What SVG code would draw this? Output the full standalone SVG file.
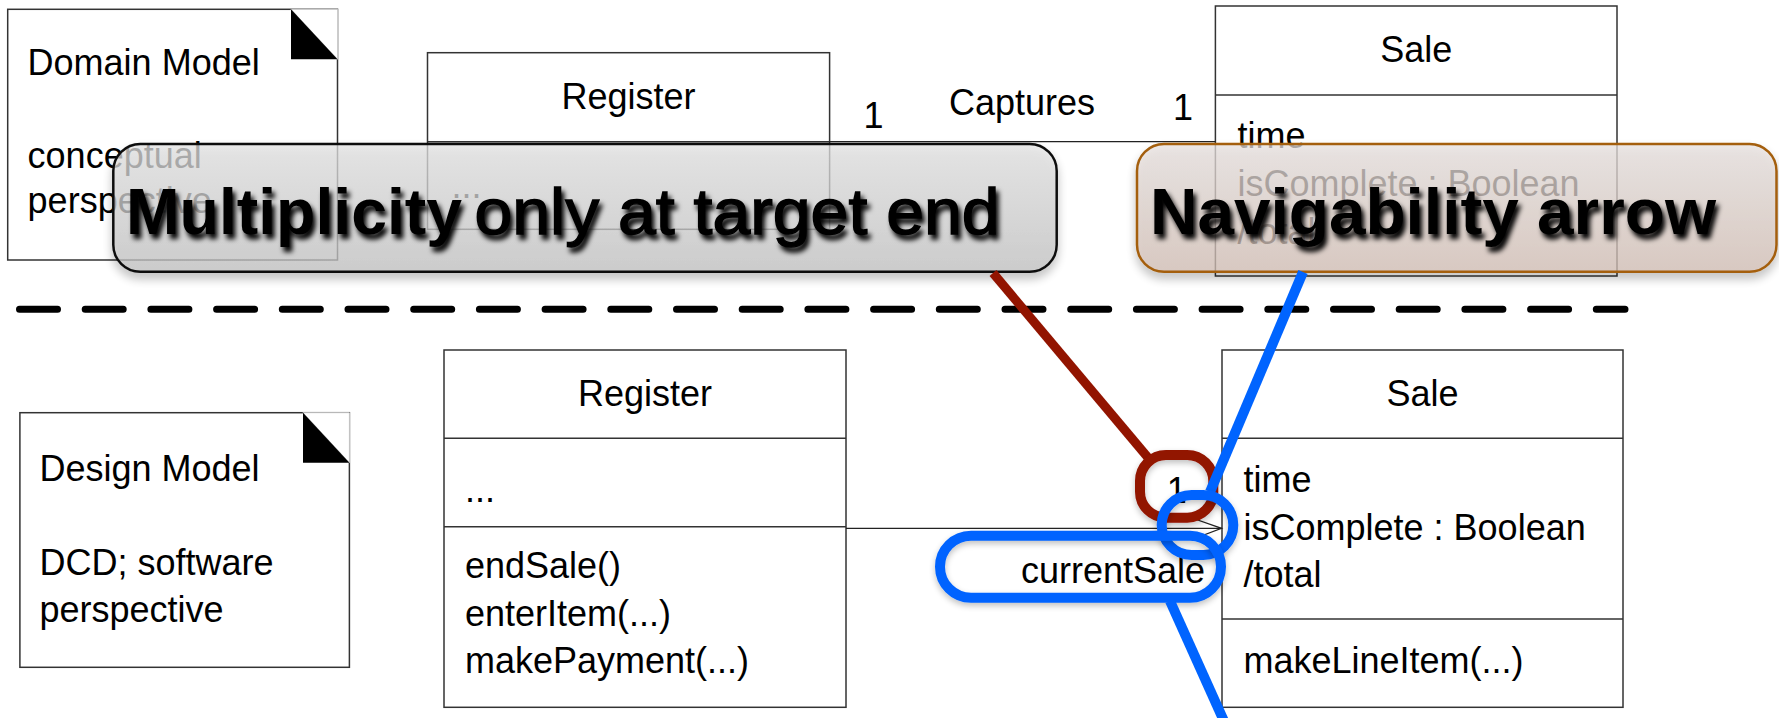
<svg xmlns="http://www.w3.org/2000/svg" width="1779" height="718" viewBox="0 0 1779 718">
  <style>
    .box { fill: #ffffff; stroke: #333333; stroke-width: 1.5; }
    .sep { stroke: #333333; stroke-width: 1.5; fill: none; }
    .t { font-family: "Liberation Sans", Arial, sans-serif; font-size: 36px; fill: #000000; }
    .mid { text-anchor: middle; }
    .end { text-anchor: end; }
    .fold { fill: #000000; }
    .corner { fill: #ffffff; stroke: #cccccc; stroke-width: 1; }
    .assoc { stroke: #222222; stroke-width: 1.3; fill: none; }
    .divider { stroke: #000000; stroke-width: 7; stroke-linecap: round; stroke-dasharray: 38 27.7; fill: none; }
    .callout-text { font-family: "Liberation Sans", Arial, sans-serif; font-size: 64px; fill: #000000; }
    .medium { stroke: #000000; stroke-width: 1.4; }
    .red { stroke: #921400; fill: none; }
    .blue { stroke: #0064ff; fill: none; }
  </style>
  <defs>
    <linearGradient id="grayFill" x1="0" y1="0" x2="0" y2="1">
      <stop offset="0" stop-color="#e4e4e4"/>
      <stop offset="1" stop-color="#c4c4c4"/>
    </linearGradient>
    <linearGradient id="tanFill" x1="0" y1="0" x2="0" y2="1">
      <stop offset="0" stop-color="#e8e2e0"/>
      <stop offset="1" stop-color="#d4c0b6"/>
    </linearGradient>
    <filter id="textShadow" x="-5%" y="-30%" width="115%" height="170%">
      <feGaussianBlur in="SourceAlpha" stdDeviation="2.5" result="b"/>
      <feOffset in="b" dx="3" dy="5" result="o"/>
      <feComponentTransfer in="o" result="s"><feFuncA type="linear" slope="1"/></feComponentTransfer>
      <feMerge><feMergeNode in="s"/><feMergeNode in="SourceGraphic"/></feMerge>
    </filter>
    <filter id="boxShadow" x="-5%" y="-20%" width="110%" height="150%">
      <feGaussianBlur in="SourceAlpha" stdDeviation="5" result="b"/>
      <feOffset in="b" dx="0" dy="6" result="o"/>
      <feComponentTransfer in="o" result="s"><feFuncA type="linear" slope="0.3"/></feComponentTransfer>
      <feMerge><feMergeNode in="s"/><feMergeNode in="SourceGraphic"/></feMerge>
    </filter>
    <filter id="ringShadow" x="-20%" y="-20%" width="140%" height="150%">
      <feGaussianBlur in="SourceAlpha" stdDeviation="3" result="b"/>
      <feOffset in="b" dx="0" dy="3" result="o"/>
      <feComponentTransfer in="o" result="s"><feFuncA type="linear" slope="0.25"/></feComponentTransfer>
      <feMerge><feMergeNode in="s"/><feMergeNode in="SourceGraphic"/></feMerge>
    </filter>
  </defs>

  <!-- ===== Domain model (upper half) ===== -->
  <g id="domain-note">
    <rect class="box" x="7.7" y="9.3" width="329.8" height="250.7"/>
    <polygon class="corner" points="291,9.3 337.5,9.3 337.5,59.3"/>
    <polygon class="fold" points="291,9.3 337.5,59.3 291,59.3"/>
    <text class="t" x="27.6" y="75">Domain Model</text>
    <text class="t" x="27.6" y="168">conceptual</text>
    <text class="t" x="27.6" y="213">perspective</text>
  </g>

  <g id="domain-register">
    <rect class="box" x="427.5" y="52.7" width="402.1" height="176.6"/>
    <line class="sep" x1="427.5" y1="141.7" x2="829.6" y2="141.7"/>
    <text class="t mid" x="628.5" y="109">Register</text>
    <text class="t" x="451.6" y="198">...</text>
  </g>

  <g id="domain-sale">
    <rect class="box" x="1215.4" y="6" width="401.6" height="270"/>
    <line class="sep" x1="1215.4" y1="95" x2="1617" y2="95"/>
    <text class="t mid" x="1416.2" y="62">Sale</text>
    <text class="t" x="1237.4" y="148">time</text>
    <text class="t" x="1237.4" y="196">isComplete : Boolean</text>
    <text class="t" x="1237.4" y="244">/total</text>
  </g>

  <!-- ===== Design model (lower half) ===== -->
  <g id="design-note">
    <rect class="box" x="19.9" y="412.7" width="329.5" height="254.6"/>
    <polygon class="corner" points="303,412.7 349.4,412.7 349.4,462.7"/>
    <polygon class="fold" points="303,412.7 349.4,462.7 303,462.7"/>
    <text class="t" x="39.4" y="481">Design Model</text>
    <text class="t" x="39.4" y="575">DCD; software</text>
    <text class="t" x="39.4" y="622">perspective</text>
  </g>

  <g id="design-register">
    <rect class="box" x="444" y="350" width="402" height="357.3"/>
    <line class="sep" x1="444" y1="438.3" x2="846" y2="438.3"/>
    <line class="sep" x1="444" y1="526.7" x2="846" y2="526.7"/>
    <text class="t mid" x="645" y="406">Register</text>
    <text class="t" x="465" y="502">...</text>
    <text class="t" x="465" y="578">endSale()</text>
    <text class="t" x="465" y="625.5">enterItem(...)</text>
    <text class="t" x="465" y="673">makePayment(...)</text>
  </g>

  <g id="design-sale">
    <rect class="box" x="1222" y="350" width="401" height="357.3"/>
    <line class="sep" x1="1222" y1="438.3" x2="1623" y2="438.3"/>
    <line class="sep" x1="1222" y1="619" x2="1623" y2="619"/>
    <text class="t mid" x="1422.5" y="406">Sale</text>
    <text class="t" x="1243.5" y="492">time</text>
    <text class="t" x="1243.5" y="539.5">isComplete : Boolean</text>
    <text class="t" x="1243.5" y="587">/total</text>
    <text class="t" x="1243.5" y="673">makeLineItem(...)</text>
  </g>

  <!-- ===== Associations ===== -->
  <g id="connectors">
    <line class="assoc" x1="829.6" y1="141.7" x2="1215.4" y2="141.7"/>
    <text class="t mid" x="873.6" y="128">1</text>
    <text class="t" x="949" y="115">Captures</text>
    <text class="t mid" x="1183" y="120">1</text>

    <line class="assoc" x1="846" y1="528.3" x2="1222" y2="528.3"/>
    <polyline class="assoc" points="1192,518 1221.5,528.3 1192,539.5"/>
    <text class="t mid" x="1176.7" y="503">1</text>
    <text class="t end" x="1205" y="583.3">currentSale</text>
  </g>

  <!-- separator between the two models -->
  <line id="model-divider" class="divider" x1="19.5" y1="309.3" x2="1625" y2="309.3"/>

  <!-- ===== Callouts ===== -->
  <g id="callout-multiplicity">
    <rect x="113.3" y="144" width="943.4" height="127.7" rx="27" ry="27" fill="url(#grayFill)" fill-opacity="0.72" stroke="#111111" stroke-width="2.5" filter="url(#boxShadow)"/>
    <g filter="url(#textShadow)">
      <text class="callout-text" x="126" y="234" font-weight="bold" textLength="336" lengthAdjust="spacingAndGlyphs">Multiplicity</text>
      <text class="callout-text medium" x="474.5" y="234" textLength="525" lengthAdjust="spacingAndGlyphs">only at target end</text>
    </g>
  </g>

  <g id="callout-navigability">
    <rect x="1137" y="144" width="639.5" height="127.7" rx="27" ry="27" fill="url(#tanFill)" fill-opacity="0.72" stroke="#a45f10" stroke-width="2.5" filter="url(#boxShadow)"/>
    <g filter="url(#textShadow)">
      <text class="callout-text" x="1150" y="234" font-weight="bold" textLength="566" lengthAdjust="spacingAndGlyphs">Navigability arrow</text>
    </g>
  </g>

  <!-- ===== Pointers and highlight rings ===== -->
  <g id="pointer-multiplicity">
    <line class="red" x1="993" y1="273" x2="1150" y2="460" stroke-width="9"/>
    <rect class="red" x="1140" y="455" width="73.3" height="62.7" rx="26" ry="26" stroke-width="10" filter="url(#ringShadow)"/>
  </g>

  <g id="pointer-navigability">
    <line class="blue" x1="1303" y1="272" x2="1210" y2="492" stroke-width="10"/>
    <rect class="blue" x="1161.7" y="495" width="71.6" height="60" rx="30" ry="30" stroke-width="10" filter="url(#ringShadow)"/>
    <rect class="blue" x="940" y="535.7" width="281" height="62" rx="31" ry="31" stroke-width="10" filter="url(#ringShadow)"/>
    <line class="blue" x1="1170" y1="601" x2="1228" y2="730" stroke-width="10"/>
  </g>
</svg>
